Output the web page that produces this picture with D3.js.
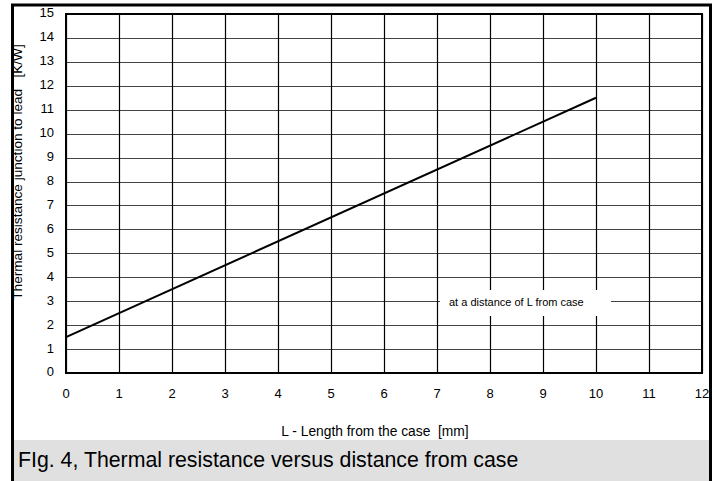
<!DOCTYPE html>
<html><head><meta charset="utf-8">
<script src="https://cdn.jsdelivr.net/npm/d3@7"></script>
<style>body{margin:0;background:#fff}svg{display:block}text{font-family:"Liberation Sans",Arial,sans-serif;white-space:pre}</style>
</head><body>
<script>
const xTicks=[0,1,2,3,4,5,6,7,8,9,10,11,12];
const yTicks=[0,1,2,3,4,5,6,7,8,9,10,11,12,13,14,15];
const lineX=[0,10];
const lineY=[1.5,11.5];
const legendText="at a distance of L from case";
const xTitle="L - Length from the case  [mm]";
const yTitle="Thermal resistance junction to lead   [K/W]";
const caption="FIg. 4, Thermal resistance versus distance from case";

const W=717,H=481;
const svg=d3.select("body").append("svg").attr("width",W).attr("height",H);
const x=d3.scaleLinear().domain([0,12]).range([66,702]);
const y=d3.scaleLinear().domain([0,15]).range([373,14]);

// caption box
svg.append("rect").attr("x",12).attr("y",440).attr("width",698).attr("height",41).attr("fill","#e0e0e0");
svg.append("text").attr("x",18).attr("y",467).attr("font-size",21.3).attr("fill","#000").text(caption);

// frame
svg.append("line").attr("x1",11).attr("x2",712).attr("y1",5).attr("y2",5).attr("stroke","#000").attr("stroke-width",3);
svg.append("line").attr("x1",12.5).attr("x2",12.5).attr("y1",4).attr("y2",481).attr("stroke","#000").attr("stroke-width",3);
svg.append("line").attr("x1",710.5).attr("x2",710.5).attr("y1",4).attr("y2",481).attr("stroke","#000").attr("stroke-width",3);

// grid
const g=svg.append("g");
g.selectAll(".hg").data(yTicks).enter().append("line")
 .attr("x1",x(0)).attr("x2",x(12)).attr("y1",d=>Math.round(y(d))+0.5).attr("y2",d=>Math.round(y(d))+0.5)
 .attr("stroke","#444").attr("stroke-width",1.2);
g.selectAll(".vg").data(xTicks).enter().append("line")
 .attr("y1",y(0)).attr("y2",y(15)).attr("x1",d=>Math.round(x(d))+0.5).attr("x2",d=>Math.round(x(d))+0.5)
 .attr("stroke","#000").attr("stroke-width",1.2);

// legend box (white, interrupts grid)
svg.append("rect").attr("x",440).attr("y",290).attr("width",171).attr("height",26).attr("fill","#fff");
svg.append("text").attr("x",449).attr("y",303).attr("font-size",11).attr("dominant-baseline","middle").text(legendText);

// plot border
svg.append("rect").attr("x",x(0)).attr("y",y(15)).attr("width",x(12)-x(0)).attr("height",y(0)-y(15))
 .attr("fill","none").attr("stroke","#000").attr("stroke-width",2);

// data line
const pts=lineX.map((v,i)=>[v,lineY[i]]);
svg.append("path").attr("d",d3.line().x(d=>x(d[0])).y(d=>y(d[1]))(pts))
 .attr("fill","none").attr("stroke","#000").attr("stroke-width",2);

// tick labels
svg.selectAll(".yl").data(yTicks).enter().append("text")
 .attr("x",54).attr("y",d=>y(d)).attr("text-anchor","end").attr("dominant-baseline","middle")
 .attr("font-size",13).text(d=>d);
svg.selectAll(".xl").data(xTicks).enter().append("text")
 .attr("x",d=>x(d)).attr("y",395).attr("text-anchor","middle").attr("dominant-baseline","middle")
 .attr("font-size",13).text(d=>d);

// titles
svg.append("text").attr("x",375).attr("y",432).attr("text-anchor","middle").attr("dominant-baseline","middle")
 .attr("font-size",13.8).text(xTitle);
svg.append("text").attr("transform","translate(22,172) rotate(-90)").attr("text-anchor","middle")
 .attr("font-size",13.6).text(yTitle);
</script>
</body></html>
